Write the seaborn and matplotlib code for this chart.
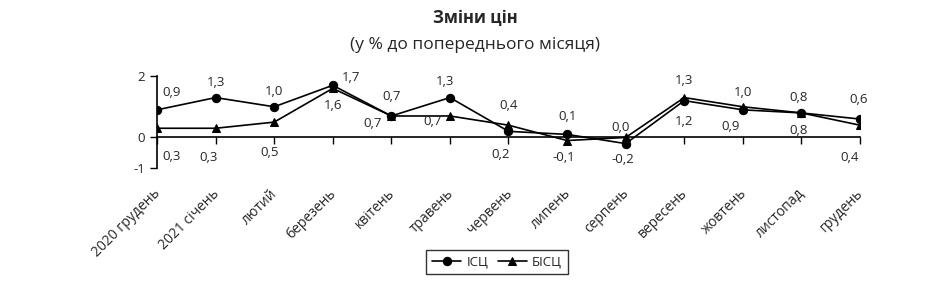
import pandas as pd
import matplotlib.pyplot as plt
import matplotlib.transforms as mtransforms
import seaborn as sns

# =========================
# Data
# =========================
months = ["2020 грудень", "2021 січень", "лютий", "березень", "квітень", "травень",
          "червень", "липень", "серпень", "вересень", "жовтень", "листопад", "грудень"]
isc = [0.9, 1.3, 1.0, 1.7, 0.7, 1.3, 0.2, 0.1, -0.2, 1.2, 0.9, 0.8, 0.6]
bisc = [0.3, 0.3, 0.5, 1.6, 0.7, 0.7, 0.4, -0.1, 0.0, 1.3, 1.0, 0.8, 0.4]

# label offsets in pixels (dx, dy)
isc_off = [(15, 17), (0, 15), (0, 15), (18, 8), (0, 19), (-5, 16), (-8, -23),
           (0, 18), (-3, -16), (0, -21), (-12, -17), (-3, 15), (-1, 20)]
bisc_off = [(15, -28), (-7, -29), (-5, -30), (0, -17), (-19, -8), (-17, -6), (0, 20),
            (-3, -17), (-5, 10), (0, 17), (0, 14), (-3, -18), (-10, -32)]

df = pd.DataFrame({
    "pos": list(range(len(months))) * 2,
    "value": isc + bisc,
    "series": ["ІСЦ"] * len(months) + ["БІСЦ"] * len(months),
})

sns.set_style("white")
plt.rcParams["font.family"] = ["Open Sans", "DejaVu Sans"]

fig = plt.figure(figsize=(9.51, 2.85), dpi=100)
ax = fig.add_axes([157 / 951, 0.41, 703 / 951, 0.323])

sns.lineplot(ax=ax, data=df, x="pos", y="value", hue="series", style="series",
             palette={"ІСЦ": "black", "БІСЦ": "black"},
             markers={"ІСЦ": "o", "БІСЦ": "^"}, dashes=False,
             markersize=6, linewidth=1.2, markeredgecolor="black")

# data labels
for vals, offs in [(isc, isc_off), (bisc, bisc_off)]:
    for i, (v, (dx, dy)) in enumerate(zip(vals, offs)):
        ax.annotate(f"{v:.1f}".replace(".", ","), (i, v), xytext=(dx, dy),
                    textcoords="offset pixels", ha="center", va="center", fontsize=9.5)

ax.set_xlim(0, 12)
ax.set_ylim(-1, 2)
ax.set_yticks([-1, 0, 2])
ax.set_yticklabels(["-1", "0", "2"], fontsize=9.5)
ax.tick_params(axis="y", direction="out", length=5, width=1, color="black", left=True)

ax.set_xticks(range(len(months)))
ax.set_xticklabels(months, rotation=45, ha="right", rotation_mode="anchor", fontsize=10)
ax.tick_params(axis="x", length=0, pad=13)
shift = mtransforms.ScaledTranslation(-4 / 100, 0, fig.dpi_scale_trans)
for lbl in ax.get_xticklabels():
    lbl.set_transform(lbl.get_transform() + shift)
ax.set_xlabel("")
ax.set_ylabel("")

for s in ["top", "right", "bottom"]:
    ax.spines[s].set_visible(False)
ax.spines["left"].set_color("black")
ax.spines["left"].set_linewidth(1.2)

# x axis line at zero with ticks
sec = ax.secondary_xaxis(1 / 3)
sec.set_xticks(range(len(months)))
sec.set_xticklabels([])
sec.tick_params(direction="out", length=5, width=1, color="black")
sec.spines["bottom"].set_color("black")
sec.spines["bottom"].set_linewidth(1.2)

# shared legend
handles, labels = ax.get_legend_handles_labels()
ax.legend_.remove()
fig.legend(handles, labels, loc="center", bbox_to_anchor=(497 / 951, 1 - 262 / 285),
           ncol=2, frameon=True, fancybox=False, edgecolor="black", fontsize=9.5,
           handlelength=2.2, handletextpad=0.4, columnspacing=0.7, borderpad=0.45)

fig.text(0.5, 1 - 18 / 285, "Зміни цін", ha="center", va="center",
         fontsize=12, fontweight="bold")
fig.text(0.5, 1 - 45 / 285, "(у % до попереднього місяця)", ha="center", va="center",
         fontsize=12.5)

plt.savefig("out.png", dpi=100)
